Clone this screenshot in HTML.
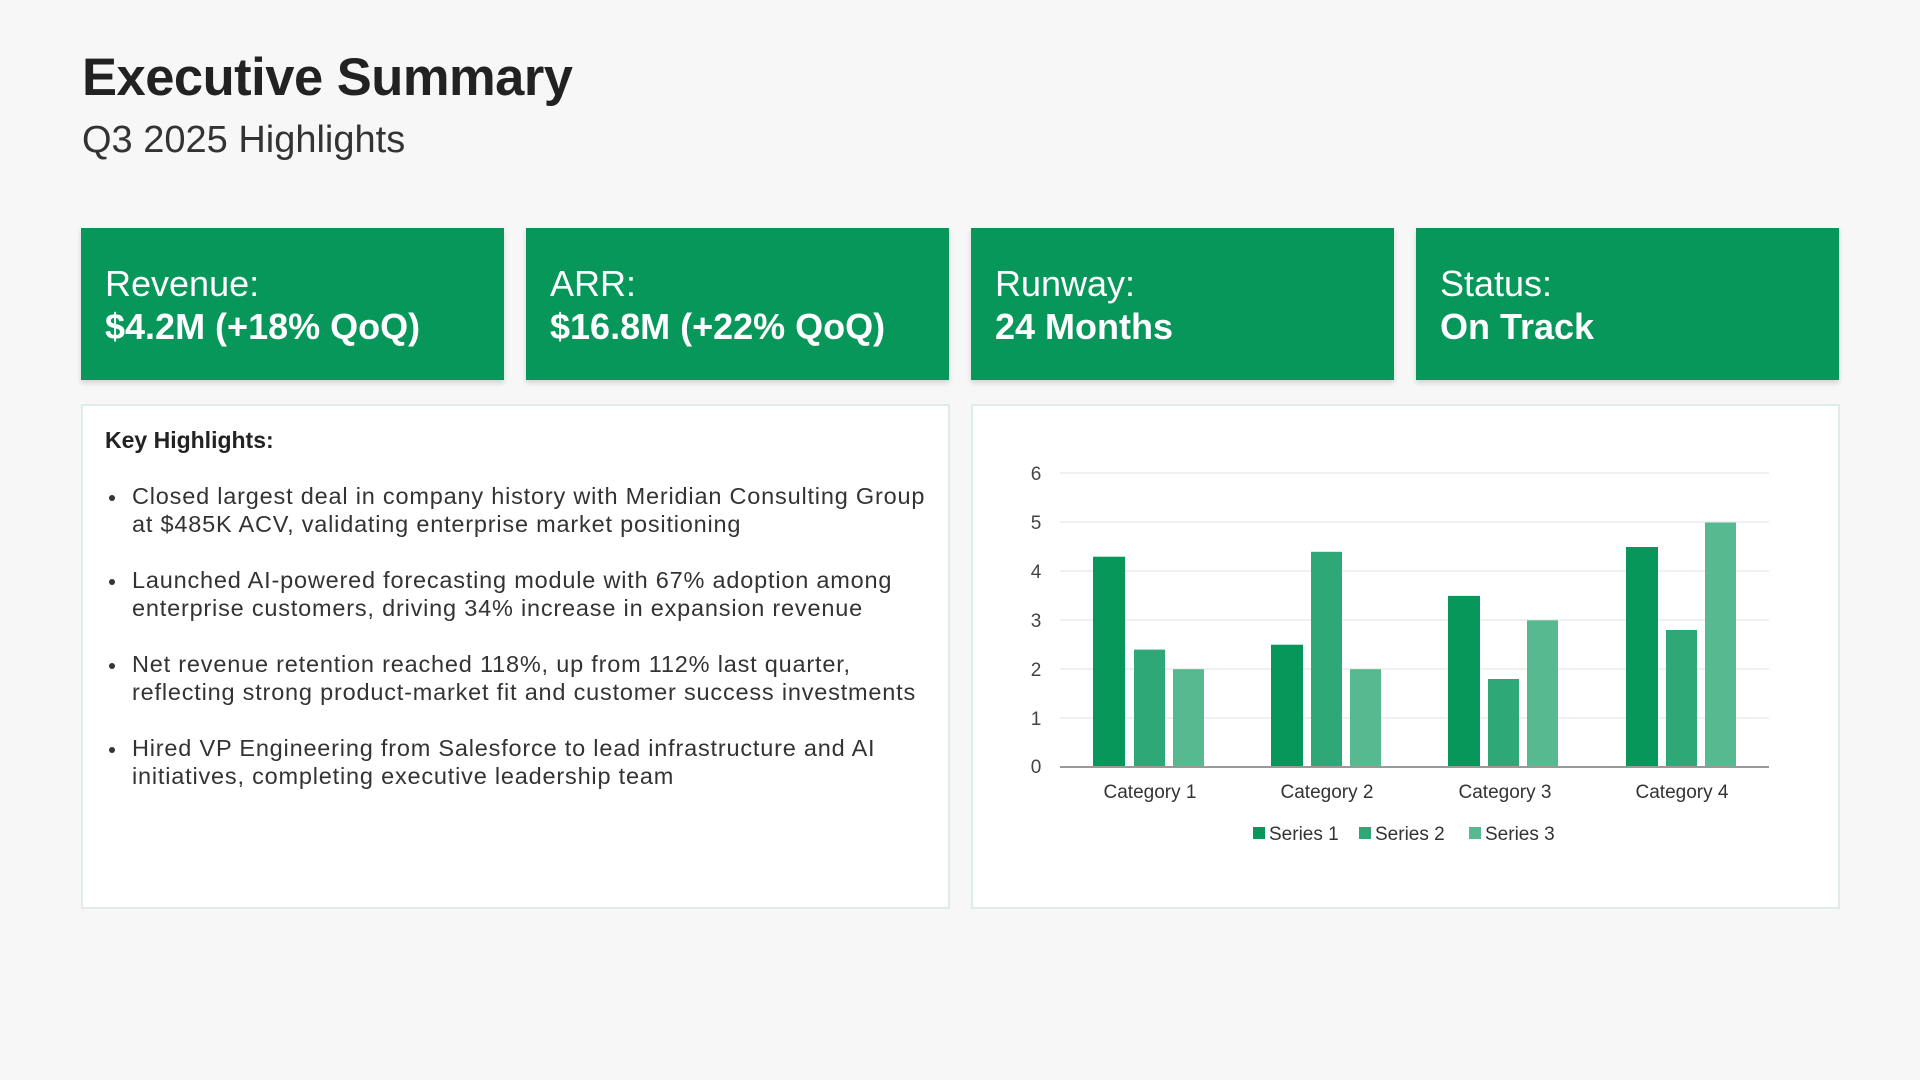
<!DOCTYPE html>
<html><head><meta charset="utf-8"><style>
*{margin:0;padding:0;box-sizing:border-box}
body{width:1920px;height:1080px;background:#f7f7f7;font-family:"Liberation Sans",sans-serif;position:relative;overflow:hidden;color:#222}
h1{position:absolute;left:82px;top:47px;font-size:52.5px;font-weight:bold;color:#222;letter-spacing:-0.5px}
.sub{position:absolute;left:82px;top:119px;font-size:38px;color:#333}
.card{position:absolute;top:228px;width:423px;height:152px;background:#07975a;box-shadow:0 3px 5px rgba(0,0,0,0.15);color:#fff;padding-left:24px}
.card .l{position:absolute;left:24px;top:35px;font-size:36px;font-weight:300}
.card .v{position:absolute;left:24px;top:78px;font-size:36px;font-weight:bold}
.panel{position:absolute;top:404px;height:505px;background:#fff;border:2px solid #dfece8}
.kh{position:absolute;left:105px;top:427px;font-size:23px;font-weight:bold;color:#222}
.b{position:absolute;left:132px;font-size:23.5px;line-height:28px;color:#333;white-space:nowrap;letter-spacing:0.8px}
.b:before{content:"";position:absolute;left:-23px;top:13px;width:6px;height:6px;border-radius:50%;background:#333}
</style></head><body>
<h1>Executive Summary</h1>
<div class="sub">Q3 2025 Highlights</div>

<div class="card" style="left:81px"><div class="l">Revenue:</div><div class="v">$4.2M (+18% QoQ)</div></div>
<div class="card" style="left:526px"><div class="l">ARR:</div><div class="v">$16.8M (+22% QoQ)</div></div>
<div class="card" style="left:971px"><div class="l">Runway:</div><div class="v">24 Months</div></div>
<div class="card" style="left:1416px"><div class="l">Status:</div><div class="v">On Track</div></div>

<div class="panel" style="left:81px;width:869px"></div>
<div class="panel" style="left:971px;width:869px"></div>

<div class="kh">Key Highlights:</div>
<div class="b" style="top:482px">Closed largest deal in company history with Meridian Consulting Group<br>at $485K ACV, validating enterprise market positioning</div>
<div class="b" style="top:566px">Launched AI-powered forecasting module with 67% adoption among<br>enterprise customers, driving 34% increase in expansion revenue</div>
<div class="b" style="top:650px">Net revenue retention reached 118%, up from 112% last quarter,<br>reflecting strong product-market fit and customer success investments</div>
<div class="b" style="top:734px">Hired VP Engineering from Salesforce to lead infrastructure and AI<br>initiatives, completing executive leadership team</div>

<svg width="1920" height="1080" style="position:absolute;left:0;top:0" font-family="Liberation Sans, sans-serif">
<g stroke="#ececec" stroke-width="1.5">
<line x1="1060" x2="1769" y1="473" y2="473"/>
<line x1="1060" x2="1769" y1="522" y2="522"/>
<line x1="1060" x2="1769" y1="571" y2="571"/>
<line x1="1060" x2="1769" y1="620" y2="620"/>
<line x1="1060" x2="1769" y1="669" y2="669"/>
<line x1="1060" x2="1769" y1="718" y2="718"/>
</g>
<g font-size="19" fill="#444" text-anchor="middle">
<text x="1036" y="480">6</text><text x="1036" y="529">5</text><text x="1036" y="578">4</text>
<text x="1036" y="627">3</text><text x="1036" y="676">2</text><text x="1036" y="725">1</text><text x="1036" y="773">0</text>
</g>
<g>
<rect x="1093" y="556.7" width="32" height="210.3" fill="#07975a"/>
<rect x="1134" y="649.6" width="31" height="117.4" fill="#2fa877"/>
<rect x="1173" y="669.2" width="31" height="97.8" fill="#56b990"/>
<rect x="1271" y="644.7" width="32" height="122.3" fill="#07975a"/>
<rect x="1311" y="551.8" width="31" height="215.2" fill="#2fa877"/>
<rect x="1350" y="669.2" width="31" height="97.8" fill="#56b990"/>
<rect x="1448" y="595.9" width="32" height="171.1" fill="#07975a"/>
<rect x="1488" y="679" width="31" height="88" fill="#2fa877"/>
<rect x="1527" y="620.3" width="31" height="146.7" fill="#56b990"/>
<rect x="1626" y="547" width="32" height="220" fill="#07975a"/>
<rect x="1666" y="630" width="31" height="137" fill="#2fa877"/>
<rect x="1705" y="522.5" width="31" height="244.5" fill="#56b990"/>
</g>
<line x1="1060" x2="1769" y1="767" y2="767" stroke="#999" stroke-width="2"/>
<g font-size="19" fill="#333" text-anchor="middle">
<text x="1150" y="798">Category 1</text><text x="1327" y="798">Category 2</text>
<text x="1505" y="798">Category 3</text><text x="1682" y="798">Category 4</text>
</g>
<g font-size="19" fill="#333">
<rect x="1253" y="827" width="12" height="12" fill="#07975a"/><text x="1269" y="840">Series 1</text>
<rect x="1359" y="827" width="12" height="12" fill="#2fa877"/><text x="1375" y="840">Series 2</text>
<rect x="1469" y="827" width="12" height="12" fill="#56b990"/><text x="1485" y="840">Series 3</text>
</g>
</svg>
</body></html>
